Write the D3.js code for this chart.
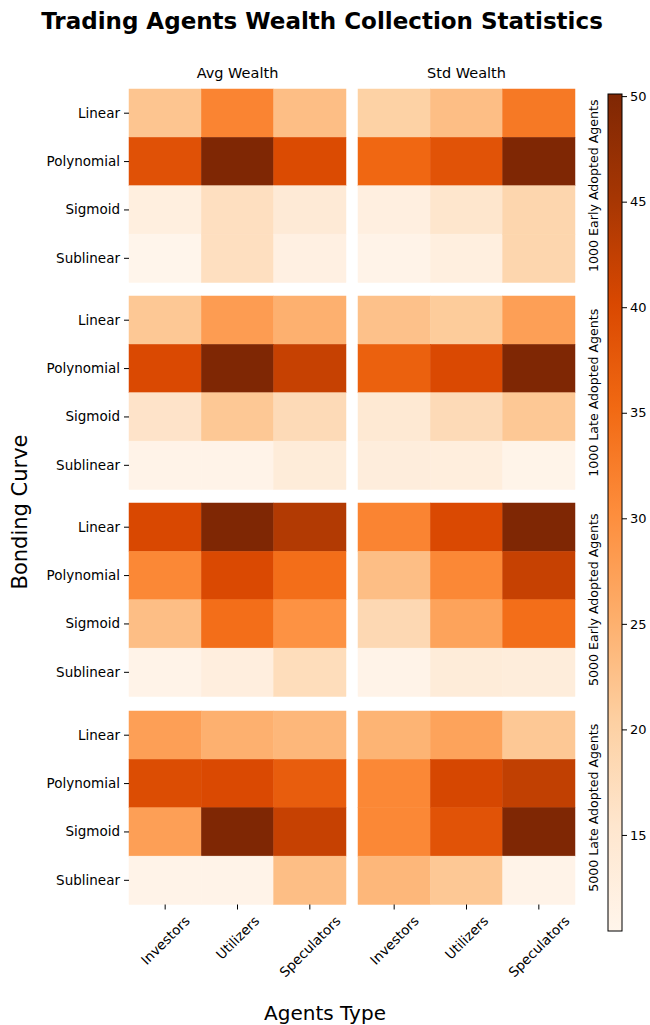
<!DOCTYPE html>
<html>
<head>
<meta charset="utf-8">
<script src="https://cdn.jsdelivr.net/npm/d3@7"></script>
<style>
  html, body { margin: 0; padding: 0; background: #fff; }
  svg { display: block; font-family: "DejaVu Sans", sans-serif; }
</style>
</head>
<body>
<svg id="chart" width="650" height="1025"></svg>
<script>
// Row/column categories
const curves = ["Linear", "Polynomial", "Sigmoid", "Sublinear"];
const agents = ["Investors", "Utilizers", "Speculators"];
const metrics = ["Avg Wealth", "Std Wealth"];
const scenarios = ["1000 Early Adopted Agents", "1000 Late Adopted Agents",
                   "5000 Early Adopted Agents", "5000 Late Adopted Agents"];
const colorbarTicks = [15, 20, 25, 30, 35, 40, 45, 50];

// Wealth values per scenario: rows = bonding curve, cols = agent type
const early1000Avg = [[22.0, 31.5, 23.0], [38.8, 50.1, 39.8], [12.5, 17.0, 14.0], [10.45, 17.0, 12.0]];
const early1000Std = [[20.0, 23.0, 33.0], [35.5, 38.5, 50.1], [12.3, 15.5, 19.0], [11.0, 12.5, 19.0]];
const late1000Avg  = [[21.5, 28.0, 25.0], [40.0, 50.1, 42.0], [16.0, 21.5, 18.0], [11.0, 11.0, 13.5]];
const late1000Std  = [[22.5, 21.0, 27.5], [36.5, 40.0, 50.1], [14.5, 18.0, 21.5], [13.0, 12.8, 10.8]];
const early5000Avg = [[40.2, 50.1, 44.0], [31.0, 40.0, 34.5], [23.0, 34.5, 29.5], [11.0, 12.7, 17.5]];
const early5000Std = [[31.5, 40.0, 50.1], [23.0, 31.0, 42.0], [18.5, 27.0, 34.5], [11.0, 13.5, 13.2]];
const late5000Avg  = [[27.5, 25.0, 24.0], [39.5, 40.0, 37.0], [27.5, 50.1, 42.0], [11.0, 11.0, 23.0]];
const late5000Std  = [[24.5, 27.0, 21.5], [31.0, 40.5, 42.5], [31.0, 38.5, 50.1], [24.0, 21.5, 11.0]];

const panels = [
  [early1000Avg, early1000Std],
  [late1000Avg, late1000Std],
  [early5000Avg, early5000Std],
  [late5000Avg, late5000Std]
];

// Matplotlib-style "Oranges" (linear segments through the ColorBrewer stops)
const orangeStops = ["#fff5eb", "#fee6ce", "#fdd0a2", "#fdae6b", "#fd8d3c",
                     "#f16913", "#d94801", "#a63603", "#7f2704"];

const allValues = panels.flat(3);
const [vmin, vmax] = d3.extent(allValues);
const color = d3.scaleLinear()
  .domain(d3.range(orangeStops.length).map(i => vmin + (vmax - vmin) * i / (orangeStops.length - 1)))
  .range(orangeStops)
  .interpolate(d3.interpolateRgb)
  .clamp(true);

const svg = d3.select("#chart");

// Layout
const colX = [129, 358];
const panelW = 217;
const groupTop = [89, 296, 503, 711];
const groupH = 193.5;

const x = d3.scaleBand().domain(agents).range([0, panelW]).paddingInner(0).paddingOuter(0);
const y = d3.scaleBand().domain(curves).range([0, groupH]).paddingInner(0).paddingOuter(0);

// Title
svg.append("text")
  .attr("x", 322).attr("y", 29)
  .attr("text-anchor", "middle")
  .attr("font-size", 23).attr("font-weight", "bold")
  .text("Trading Agents Wealth Collection Statistics");

// Column titles
metrics.forEach((m, j) => {
  svg.append("text")
    .attr("x", colX[j] + panelW / 2).attr("y", 78)
    .attr("text-anchor", "middle")
    .attr("font-size", 14.5)
    .text(m);
});

panels.forEach((pair, gi) => {
  pair.forEach((grid, j) => {
    const g = svg.append("g")
      .attr("transform", `translate(${colX[j]},${groupTop[gi]})`);

    const cells = [];
    grid.forEach((row, ri) => row.forEach((v, ci) => cells.push({ curve: curves[ri], agent: agents[ci], v })));

    g.selectAll("rect")
      .data(cells)
      .join("rect")
      .attr("x", d => x(d.agent))
      .attr("y", d => y(d.curve))
      .attr("width", x.bandwidth())
      .attr("height", y.bandwidth())
      .attr("fill", d => color(d.v))
      .attr("stroke", d => color(d.v))
      .attr("stroke-width", 0.5);

    // Row labels on the left column only
    if (j === 0) {
      const ay = g.append("g").call(d3.axisLeft(y).tickSize(5).tickPadding(4));
      ay.select(".domain").remove();
      ay.selectAll("text").attr("font-size", 13.5).attr("font-family", "DejaVu Sans").attr("fill", "#000");
      ay.selectAll("line").attr("stroke", "#000");
    }

    // Agent labels under the bottom group
    if (gi === panels.length - 1) {
      const ax = g.append("g")
        .attr("transform", `translate(0,${groupH})`)
        .call(d3.axisBottom(x).tickSize(5).tickFormat(""));
      ax.select(".domain").remove();
      ax.selectAll("line").attr("stroke", "#000");
      agents.forEach(a => {
        const t = g.append("text")
          .attr("font-size", 13.5)
          .attr("text-anchor", "middle")
          .attr("dominant-baseline", "central")
          .text(a);
        const L = t.node().getComputedTextLength();
        const h = 13.5;
        const half = (L + h) * Math.SQRT1_2 / 2;
        const cx = x(a) + x.bandwidth() / 2;
        const cy = groupH + 9 + half;
        t.attr("transform", `translate(${cx},${cy}) rotate(-45)`);
      });
    }
  });

  // Scenario label at the right of each row of panels
  svg.append("text")
    .attr("transform", `translate(593,${groupTop[gi] + groupH / 2}) rotate(-90)`)
    .attr("text-anchor", "middle")
    .attr("dominant-baseline", "central")
    .attr("font-size", 12.6)
    .text(scenarios[gi]);
});

// Axis titles
svg.append("text")
  .attr("transform", "translate(20,512) rotate(-90)")
  .attr("text-anchor", "middle")
  .attr("dominant-baseline", "central")
  .attr("font-size", 21)
  .text("Bonding Curve");

svg.append("text")
  .attr("x", 325).attr("y", 1020)
  .attr("text-anchor", "middle")
  .attr("font-size", 20)
  .text("Agents Type");

// Colorbar
const cbX = 608, cbW = 14, cbTop = 94, cbBottom = 931;
const cbScale = d3.scaleLinear().domain([vmin, vmax]).range([cbBottom, cbTop]);

const defs = svg.append("defs");
const grad = defs.append("linearGradient")
  .attr("id", "cbGrad")
  .attr("x1", 0).attr("y1", 1).attr("x2", 0).attr("y2", 0);
color.domain().forEach((dv, i) => {
  grad.append("stop")
    .attr("offset", (dv - vmin) / (vmax - vmin))
    .attr("stop-color", orangeStops[i]);
});

svg.append("rect")
  .attr("x", cbX).attr("y", cbTop)
  .attr("width", cbW).attr("height", cbBottom - cbTop)
  .attr("fill", "url(#cbGrad)")
  .attr("stroke", "#000").attr("stroke-width", 1);

const cbAxis = svg.append("g")
  .attr("transform", `translate(${cbX + cbW},0)`)
  .call(d3.axisRight(cbScale).tickValues(colorbarTicks).tickSize(5).tickPadding(3));
cbAxis.select(".domain").remove();
cbAxis.selectAll("text").attr("font-size", 13).attr("font-family", "DejaVu Sans").attr("fill", "#000");
cbAxis.selectAll("line").attr("stroke", "#000");
</script>
</body>
</html>
